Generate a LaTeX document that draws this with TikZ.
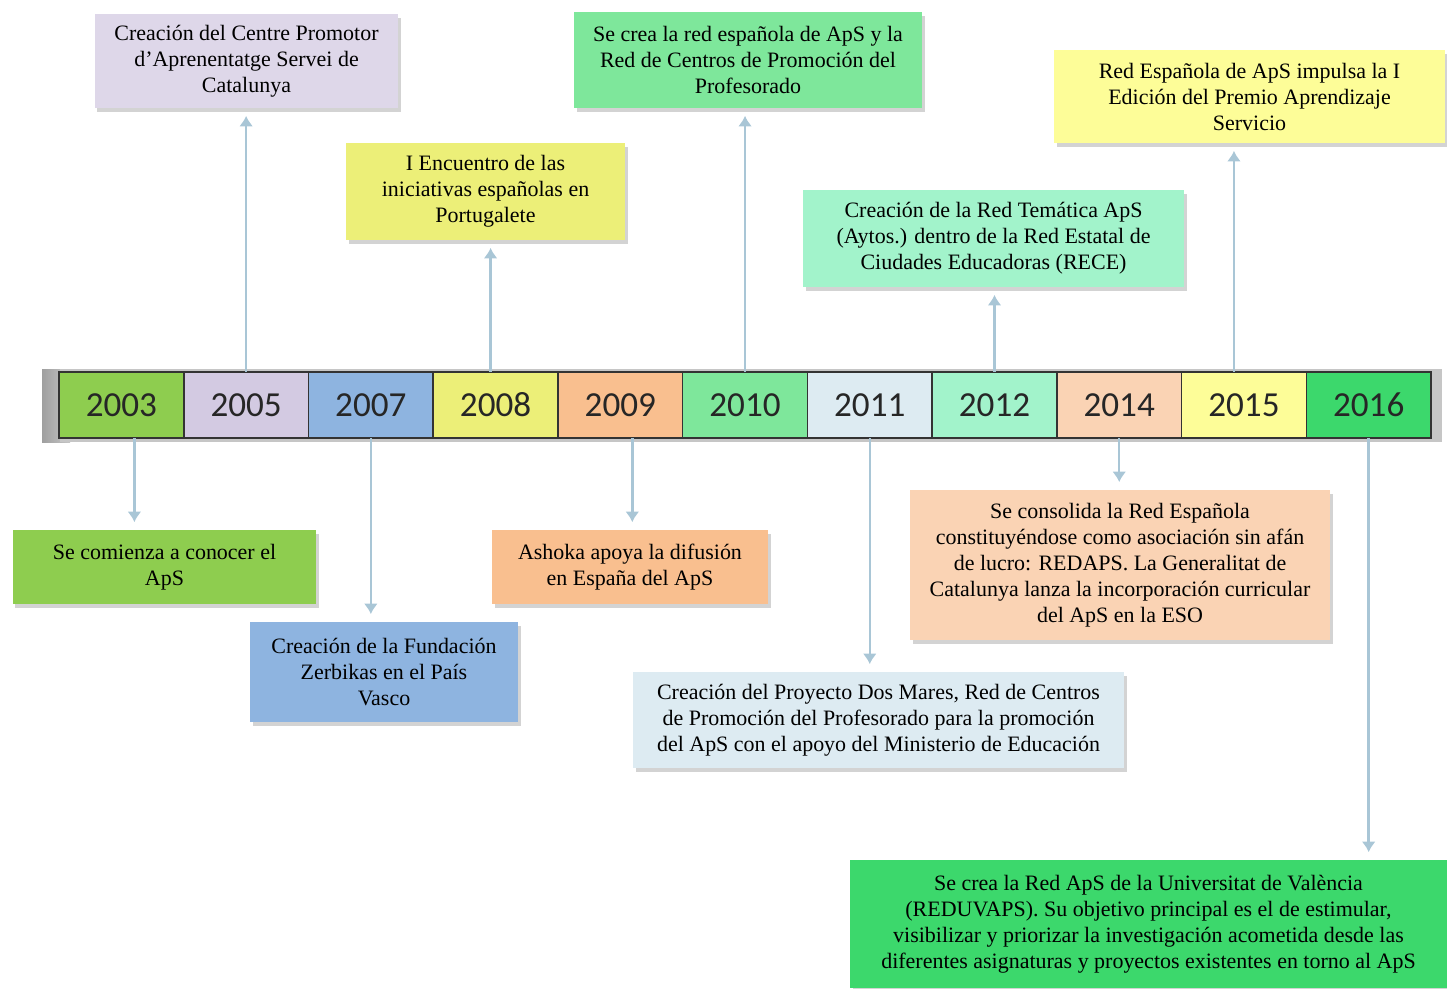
\documentclass[tikz,border=0pt]{standalone}
\usepackage{fontspec}
\setmainfont{Liberation Serif}
\newfontfamily\yearfont{Carlito}
\usepackage{xcolor}
\usetikzlibrary{shapes,arrows.meta,positioning,shadows}

\definecolor{c2003}{HTML}{8ECD4F}
\definecolor{c2005}{HTML}{D3CAE2}
\definecolor{c2007}{HTML}{8EB4E0}
\definecolor{c2008}{HTML}{ECEF78}
\definecolor{c2009}{HTML}{F9BF8F}
\definecolor{c2010}{HTML}{7EE79B}
\definecolor{c2011}{HTML}{DDEBF2}
\definecolor{c2012}{HTML}{A2F3CB}
\definecolor{c2014}{HTML}{FAD3B4}
\definecolor{c2015}{HTML}{FDFD98}
\definecolor{c2016}{HTML}{3CD86C}
\definecolor{linkblue}{HTML}{A9C6D6}

\begin{document}
\begin{tikzpicture}[
    x=0.2mm, y=-0.2mm,
    year/.style={rectangle, draw=black!80, line width=0.9pt, minimum width=24.945mm, minimum height=13.2mm, outer sep=0pt, inner sep=0pt, text=black!85, font=\yearfont\fontsize{20}{24}\selectfont},
    event/.style={rectangle, align=center, inner sep=2pt, font=\fontsize{12.5}{14.8}\selectfont, drop shadow={opacity=0.35, shadow xshift=0.5mm, shadow yshift=-0.7mm}},
    link/.style={-{Latex[length=6pt,width=8pt]}, draw=linkblue, line width=1.4pt, shorten >=1.5mm}
]
\useasboundingbox (0,0) rectangle (1447,988);

% timeline bar
\shade[left color=gray!75, right color=gray!45] (42,369) rectangle (70,442);
\fill[gray!45] (60,369) rectangle (1442,442);
\node[year, fill=c2003] (y2003) at (121.4,405) {2003};
\node[year, fill=c2005, right=0pt of y2003] (y2005) {2005};
\node[year, fill=c2007, right=0pt of y2005] (y2007) {2007};
\node[year, fill=c2008, right=0pt of y2007] (y2008) {2008};
\node[year, fill=c2009, right=0pt of y2008] (y2009) {2009};
\node[year, fill=c2010, right=0pt of y2009] (y2010) {2010};
\node[year, fill=c2011, right=0pt of y2010] (y2011) {2011};
\node[year, fill=c2012, right=0pt of y2011] (y2012) {2012};
\node[year, fill=c2014, right=0pt of y2012] (y2014) {2014};
\node[year, fill=c2015, right=0pt of y2014] (y2015) {2015};
\node[year, fill=c2016, right=0pt of y2015] (y2016) {2016};

% events above
\node[event, fill=c2005!75, minimum width=60.6mm, minimum height=18.8mm] (ev2005) at (246.5,61) {Creación del Centre Promotor\\d’Aprenentatge Servei de\\Catalunya};
\node[event, fill=c2008, minimum width=55.8mm, minimum height=19.4mm] (ev2008) at (485.5,191.5) {I Encuentro de las\\iniciativas españolas en\\Portugalete};
\node[event, fill=c2010, minimum width=69.6mm, minimum height=19.2mm] (ev2010) at (748,60) {Se crea la red española de ApS y la\\Red de Centros de Promoción del\\Profesorado};
\node[event, fill=c2012, minimum width=76.2mm, minimum height=19.4mm] (ev2012) at (993.5,238.5) {Creación de la Red Temática ApS\\(Aytos.) dentro de la Red Estatal de\\Ciudades Educadoras (RECE)};
\node[event, fill=c2015, minimum width=78.2mm, minimum height=18.6mm] (ev2015) at (1249.5,96.5) {Red Española de ApS impulsa la I\\Edición del Premio Aprendizaje\\Servicio};

% events below
\node[event, fill=c2003, minimum width=60.6mm, minimum height=14.8mm] (ev2003) at (164.5,567) {Se comienza a conocer el\\ApS};
\node[event, fill=c2007, minimum width=53.6mm, minimum height=20mm] (ev2007) at (384,672) {Creación de la Fundación\\Zerbikas en el País\\Vasco};
\node[event, fill=c2009, minimum width=55.2mm, minimum height=14.8mm] (ev2009) at (630,567) {Ashoka apoya la difusión\\en España del ApS};
\node[event, fill=c2011, minimum width=98.2mm, minimum height=19.2mm] (ev2011) at (878.5,720) {Creación del Proyecto Dos Mares, Red de Centros\\de Promoción del Profesorado para la promoción\\del ApS con el apoyo del Ministerio de Educación};
\node[event, fill=c2014, minimum width=84mm, minimum height=30mm] (ev2014) at (1120,565) {Se consolida la Red Española\\constituyéndose como asociación sin afán\\de lucro: REDAPS. La Generalitat de\\Catalunya lanza la incorporación curricular\\del ApS en la ESO};
\node[event, fill=c2016, minimum width=119.4mm, minimum height=25.6mm] (ev2016) at (1148.5,924) {Se crea la Red ApS de la Universitat de València\\(REDUVAPS). Su objetivo principal es el de estimular,\\visibilizar y priorizar la investigación acometida desde las\\diferentes asignaturas y proyectos existentes en torno al ApS};

% arrows
\draw[link] (y2005.north) -- (y2005.north |- ev2005.south);
\draw[link, transform canvas={xshift=-1mm}] (y2008.north) -- (y2008.north |- ev2008.south);
\draw[link] (y2010.north) -- (y2010.north |- ev2010.south);
\draw[link] (y2012.north) -- (y2012.north |- ev2012.south);
\draw[link, transform canvas={xshift=-2mm}] (y2015.north) -- (y2015.north |- ev2015.south);
\draw[link, transform canvas={xshift=2.6mm}] (y2003.south) -- (y2003.south |- ev2003.north);
\draw[link] (y2007.south) -- (y2007.south |- ev2007.north);
\draw[link, transform canvas={xshift=2.4mm}] (y2009.south) -- (y2009.south |- ev2009.north);
\draw[link] (y2011.south) -- (y2011.south |- ev2011.north);
\draw[link] (y2014.south) -- (y2014.south |- ev2014.north);
\draw[link] (y2016.south) -- (y2016.south |- ev2016.north);

\end{tikzpicture}
\end{document}
